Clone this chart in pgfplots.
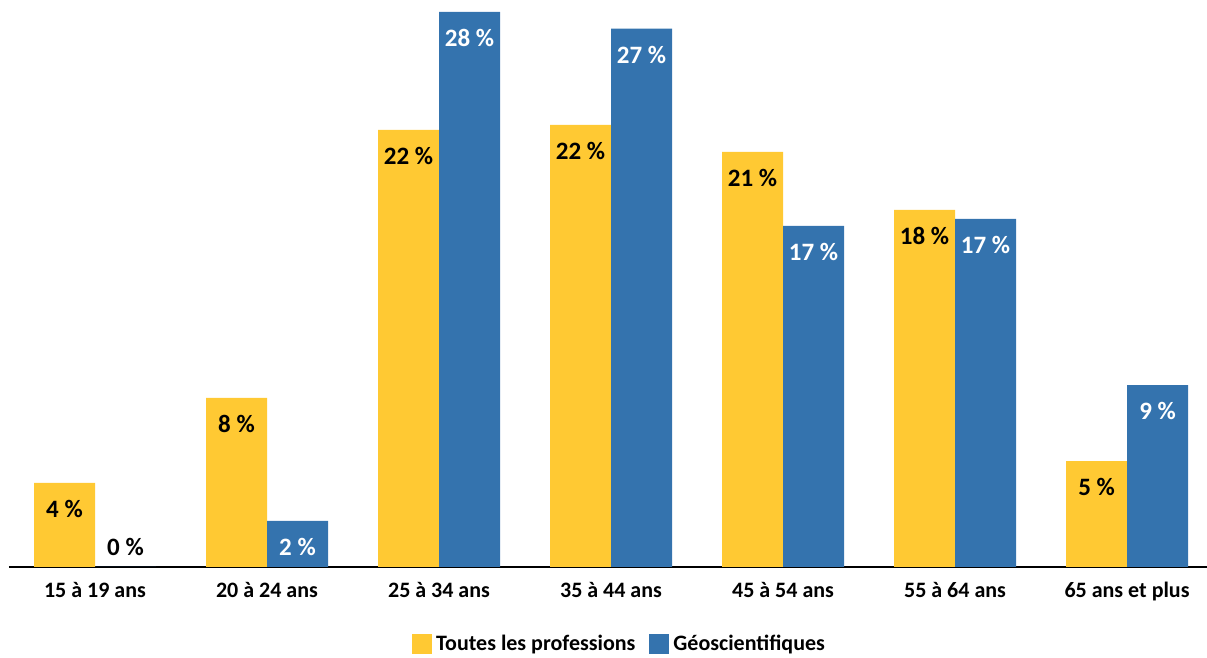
\documentclass[border=0pt]{standalone}
\usepackage{pgfplots}
\pgfplotsset{compat=1.18}
\usepackage{fontspec}
\setmainfont{Carlito}
\definecolor{cyel}{RGB}{255,201,51}
\definecolor{cblu}{RGB}{52,115,174}
\begin{document}
\begin{tikzpicture}
\begin{axis}[
  scale only axis, width=599pt, height=283.5pt,
  ymin=0, ymax=28.2, xmin=-0.5, xmax=6.465,
  ybar=0pt, bar width=30.5pt,
  axis y line=none, axis x line*=bottom,
  x axis line style={line width=1pt, black},
  xtick={0,1,2,3,4,5,6},
  xticklabels={15 à 19 ans, 20 à 24 ans, 25 à 34 ans, 35 à 44 ans, 45 à 54 ans, 55 à 64 ans, 65 ans et plus},
  major tick length=0pt,
  xticklabel style={font=\fontsize{11}{13}\selectfont\bfseries, yshift=-4pt},
  point meta=explicit symbolic,
  nodes near coords,
  visualization depends on={y \as \rawy},
  every node near coord/.append style={font=\fontsize{12.5}{15}\selectfont\bfseries, anchor=center,
     yshift={(\rawy<0.5) ? 10 : -13}},
  legend image code/.code={\fill[#1] (-2pt,-5pt) rectangle (8pt,5pt);},
  legend style={draw=none, at={(0.5105,-0.136)}, anchor=center, legend columns=2,
     font=\fontsize{11}{13}\selectfont\bfseries,
     /tikz/every even column/.append style={column sep=5pt}},
  clip=false,
]
\addplot[fill=cyel, draw=none, every node near coord/.append style={text=black}] coordinates {
  (0,4.18) [4 \%]
  (1,8.41) [8 \%]
  (2,21.74) [22 \%]
  (3,21.99) [22 \%]
  (4,20.65) [21 \%]
  (5,17.76) [18 \%]
  (6,5.27) [5 \%]
};
\addplot[fill=cblu, draw=none, every node near coord/.append style={text=white}] coordinates {
  (0,0) [\textcolor{black}{0 \%}]
  (1,2.29) [2 \%]
  (2,27.61) [28 \%]
  (3,26.77) [27 \%]
  (4,16.97) [17 \%]
  (5,17.31) [17 \%]
  (6,9.05) [9 \%]
};
\legend{Toutes les professions, Géoscientifiques}
\end{axis}
\pgfresetboundingbox
\path (-4.5pt,-45.5pt) rectangle (599pt,283.5pt);
\end{tikzpicture}
\end{document}
